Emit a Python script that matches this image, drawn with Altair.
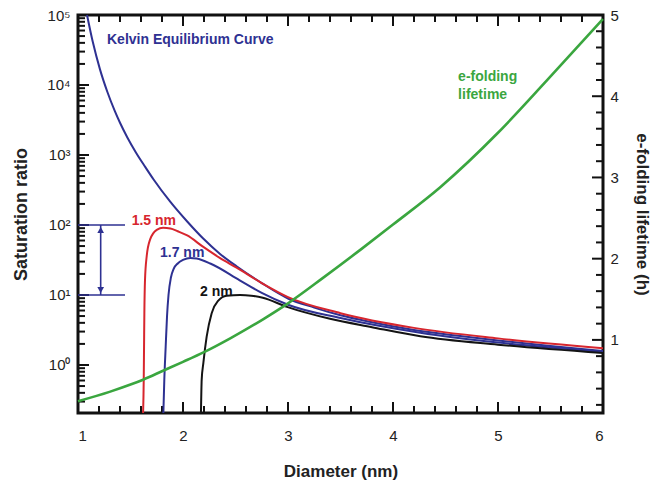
import altair as alt
import pandas as pd

# ---------------- data ----------------
# Kelvin equilibrium curve: diameter (nm) and log10(saturation ratio)
kelvin_d = [1.086, 1.14, 1.21, 1.28, 1.35, 1.40, 1.47, 1.55, 1.64, 1.72, 1.88, 2.04,
            2.19, 2.35, 2.51, 2.75, 3.0, 3.25, 3.5, 3.8, 4.2, 4.6, 5.0, 5.5, 6.0]
kelvin_logS = [5.00, 4.62, 4.22, 3.90, 3.63, 3.46, 3.25, 3.04, 2.83, 2.65, 2.33, 2.05,
               1.81, 1.59, 1.41, 1.17, 0.95, 0.82, 0.71, 0.61, 0.50, 0.42, 0.35, 0.27, 0.20]

# 1.5 nm curve
r15_d = [1.620, 1.626, 1.629, 1.632, 1.638, 1.654, 1.686, 1.75, 1.81, 1.88, 1.95, 2.04,
         2.19, 2.35, 2.51, 2.75, 3.0, 3.5, 4.2, 5.0, 6.0]
r15_logS = [-0.686, -0.21, 0.26, 0.74, 1.21, 1.55, 1.79, 1.93, 1.96, 1.95, 1.91, 1.85,
            1.69, 1.53, 1.39, 1.17, 0.97, 0.74, 0.53, 0.38, 0.24]

# 1.7 nm curve
b17_d = [1.813, 1.822, 1.835, 1.848, 1.862, 1.885, 1.91, 1.95, 2.0, 2.07, 2.13, 2.26,
         2.54, 2.75, 3.0, 3.5, 4.26, 5.0, 6.0]
b17_logS = [-0.686, -0.21, 0.26, 0.70, 1.00, 1.25, 1.37, 1.45, 1.50, 1.53, 1.52, 1.45,
            1.21, 1.03, 0.86, 0.67, 0.46, 0.32, 0.19]

# 2 nm curve
k20_d = [2.171, 2.178, 2.194, 2.225, 2.273, 2.336, 2.416, 2.543, 2.65, 2.76, 2.99, 3.4,
         3.8, 4.26, 5.0, 6.0]
k20_logS = [-0.686, -0.21, 0.03, 0.40, 0.74, 0.92, 0.99, 1.00, 0.99, 0.96, 0.83, 0.66,
            0.54, 0.41, 0.29, 0.17]

# e-folding lifetime (h), right axis
life_d = [1.0, 1.30, 1.50, 1.62, 1.81, 2.0, 2.2, 2.45, 2.77, 3.0, 3.33, 3.71, 4.0,
          4.45, 5.0, 5.47, 6.0]
life_h = [0.245, 0.36, 0.45, 0.51, 0.62, 0.73, 0.85, 1.02, 1.26, 1.45, 1.76, 2.13, 2.42,
          2.88, 3.55, 4.2, 4.95]

series_names = ["Kelvin", "1.5 nm", "1.7 nm", "2 nm"]
NAVY, RED, BLACK, GREEN = "#2e3192", "#d7262e", "#141414", "#3aa63f"
series_colors = [NAVY, RED, NAVY, BLACK]

# tick values
x_major = [1, 2, 3, 4, 5, 6]
x_minor = [1.2, 1.4, 1.6, 1.8, 2.2, 2.4, 2.6, 2.8, 3.2, 3.4, 3.6, 3.8,
           4.2, 4.4, 4.6, 4.8, 5.2, 5.4, 5.6, 5.8]
s_major = [1, 10, 100, 1000, 10000, 100000]
s_minor = [m * 10.0 ** k for k in range(-1, 5) for m in range(2, 10) if m * 10.0 ** k >= 0.206]
t_major = [1, 2, 3, 4, 5]
t_minor = [0.2, 0.4, 0.6, 0.8, 1.2, 1.4, 1.6, 1.8, 2.2, 2.4, 2.6, 2.8,
           3.2, 3.4, 3.6, 3.8, 4.2, 4.4, 4.6, 4.8]

# annotations
arrow_S = [100, 10]
arrow_x = 1.216
bracket_x = [1.0, 1.448]
log_labels = ["Kelvin Equilibrium Curve", "1.5 nm", "1.7 nm", "2 nm"]
log_label_d = [1.276, 1.511, 1.781, 2.162]
log_label_S = [43950, 114, 39.8, 11.0]
log_label_colors = [NAVY, RED, NAVY, BLACK]
green_labels = ["e-folding", "lifetime"]
green_label_d = [4.62, 4.62]
green_label_t = [4.237, 4.015]

# ---------------- tables ----------------
rows = []
for name, ds, ls in [("Kelvin", kelvin_d, kelvin_logS), ("1.5 nm", r15_d, r15_logS),
                     ("1.7 nm", b17_d, b17_logS), ("2 nm", k20_d, k20_logS)]:
    for d, l in zip(ds, ls):
        rows.append({"series": name, "d": d, "S": 10 ** l})
curve_df = pd.DataFrame(rows)
life_df = pd.DataFrame({"d": life_d, "t": life_h})
bracket_df = pd.DataFrame({"S": arrow_S, "x0": [bracket_x[0]] * 2, "x1": [bracket_x[1]] * 2})
vert_df = pd.DataFrame({"x": [arrow_x], "S0": [arrow_S[0]], "S1": [arrow_S[1]]})
up_df = pd.DataFrame({"x": [arrow_x], "S": [arrow_S[0]]})
down_df = pd.DataFrame({"x": [arrow_x], "S": [arrow_S[1]]})
loglab_df = pd.DataFrame({"d": log_label_d, "S": log_label_S, "label": log_labels, "c": log_label_colors})
glab_df = pd.DataFrame({"d": green_label_d, "t": green_label_t, "label": green_labels})

FONT = "Liberation Sans"
W, H = 525, 398
MAJ, MIN = 11, 7
TICK = "#111111"


def xs():
    return alt.Scale(domain=[1, 6], nice=False, zero=False)


def ys_log():
    return alt.Scale(type="log", domain=[0.206, 100000], nice=False)


def ys_lin():
    return alt.Scale(domain=[0.1, 5], nice=False, zero=False)


left_expr = "'10' + ['\u2070','\u00b9','\u00b2','\u00b3','\u2074','\u2075'][round(log(datum.value)/LN10)]"


# ---- inward tick marks (drawn from tick value lists through the scales) ----
def xticks(values, length, side):
    df = pd.DataFrame({"v": values})
    if side == "bottom":
        yy = dict(y=alt.value(H), y2=alt.value(H - length))
    else:
        yy = dict(y=alt.value(0), y2=alt.value(length))
    return alt.Chart(df).mark_rule(color=TICK, strokeWidth=2).encode(
        x=alt.X("v:Q", scale=xs(), axis=None), **yy)


def yticks(values, length, side, scale):
    df = pd.DataFrame({"v": values})
    if side == "left":
        xx = dict(x=alt.value(0), x2=alt.value(length))
    else:
        xx = dict(x=alt.value(W), x2=alt.value(W - length))
    return alt.Chart(df).mark_rule(color=TICK, strokeWidth=2).encode(
        y=alt.Y("v:Q", scale=scale, axis=None), **xx)


tick_layers = [
    xticks(x_major, MAJ, "bottom"), xticks(x_minor, MIN, "bottom"),
    xticks(x_major, MAJ, "top"), xticks(x_minor, MIN, "top"),
    yticks(s_major, MAJ, "left", ys_log()), yticks(s_minor, MIN, "left", ys_log()),
    yticks(t_major, MAJ, "right", ys_lin()), yticks(t_minor, MIN, "right", ys_lin()),
]

curves = alt.Chart(curve_df).mark_line(strokeWidth=2, interpolate="monotone").encode(
    x=alt.X("d:Q", scale=xs(), axis=alt.Axis(
        orient="bottom", values=x_major, ticks=False, domain=False, grid=False,
        labelPadding=15, format="d", title="Diameter (nm)", titlePadding=20)),
    y=alt.Y("S:Q", scale=ys_log(), axis=alt.Axis(
        orient="left", values=s_major, ticks=False, domain=False, grid=False,
        labelPadding=8, labelExpr=left_expr, title="Saturation ratio", titlePadding=16,
        titleFontSize=18)),
    color=alt.Color("series:N", scale=alt.Scale(domain=series_names, range=series_colors), legend=None),
    detail="series:N",
)

green = alt.Chart(life_df).mark_line(strokeWidth=2.6, color=GREEN, interpolate="monotone").encode(
    x=alt.X("d:Q", scale=xs(), axis=None),
    y=alt.Y("t:Q", scale=ys_lin(), axis=alt.Axis(
        orient="right", values=t_major, ticks=False, domain=False, grid=False,
        labelPadding=7, format="d", title="e-folding lifetime (h)", titlePadding=14)),
)

bracket = alt.Chart(bracket_df).mark_rule(color=NAVY, strokeWidth=1.6).encode(
    x=alt.X("x0:Q", scale=xs(), axis=None),
    x2="x1:Q",
    y=alt.Y("S:Q", scale=ys_log(), axis=None),
)

vert = alt.Chart(vert_df).mark_rule(color=NAVY, strokeWidth=1.6).encode(
    x=alt.X("x:Q", scale=xs(), axis=None),
    y=alt.Y("S0:Q", scale=ys_log(), axis=None),
    y2="S1:Q",
)

up = alt.Chart(up_df).mark_point(shape="triangle-up", filled=True, size=45, color=NAVY,
                                  opacity=1, yOffset=5).encode(
    x=alt.X("x:Q", scale=xs(), axis=None),
    y=alt.Y("S:Q", scale=ys_log(), axis=None),
)
down = alt.Chart(down_df).mark_point(shape="triangle-down", filled=True, size=45, color=NAVY,
                                      opacity=1, yOffset=-5).encode(
    x=alt.X("x:Q", scale=xs(), axis=None),
    y=alt.Y("S:Q", scale=ys_log(), axis=None),
)

log_text = alt.Chart(loglab_df).mark_text(
    align="left", baseline="middle", font=FONT, fontSize=14, fontWeight="bold").encode(
    x=alt.X("d:Q", scale=xs(), axis=None),
    y=alt.Y("S:Q", scale=ys_log(), axis=None),
    text="label:N",
    color=alt.Color("c:N", scale=None),
)

green_text = alt.Chart(glab_df).mark_text(
    align="left", baseline="middle", color=GREEN, font=FONT, fontSize=14, fontWeight="bold").encode(
    x=alt.X("d:Q", scale=xs(), axis=None),
    y=alt.Y("t:Q", scale=ys_lin(), axis=None),
    text="label:N",
)

chart = alt.layer(
    *tick_layers, curves, green, bracket, vert, up, down, log_text, green_text
).resolve_scale(
    x="independent", y="independent", color="independent"
).properties(
    width=W, height=H,
    autosize=alt.AutoSizeParams(type="none"),
    padding={"left": 78, "top": 15, "right": 51, "bottom": 69},
).configure_view(
    stroke="#111111", strokeWidth=3
).configure_axis(
    labelFont=FONT, labelFontSize=15, labelColor="#222222",
    titleFont=FONT, titleFontSize=17, titleFontWeight="bold", titleColor="#222222",
)

chart.save("out.html", embed_options={"renderer": "svg", "actions": False})
